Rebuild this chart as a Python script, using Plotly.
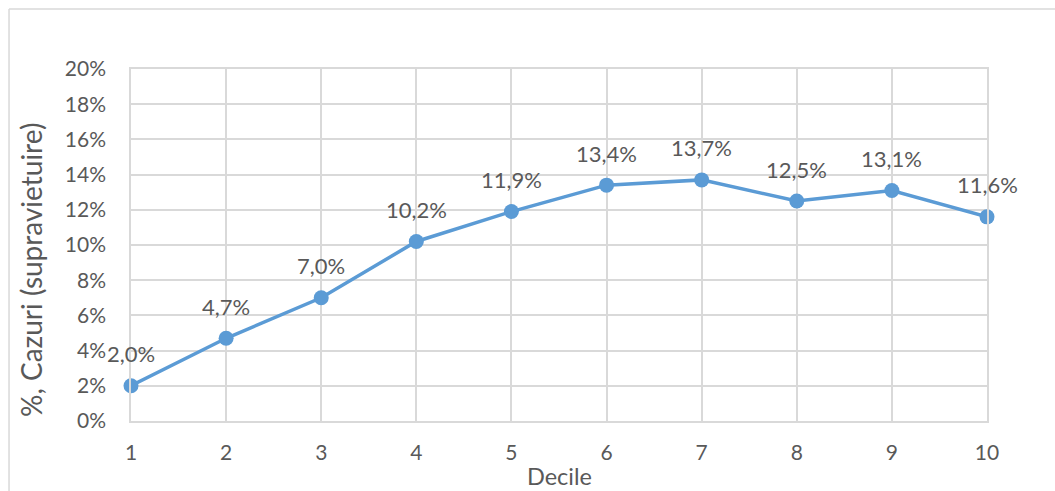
import plotly.graph_objects as go

# Share of cases (survival) by income decile
deciles = [1, 2, 3, 4, 5, 6, 7, 8, 9, 10]
share_pct = [2.0, 4.7, 7.0, 10.2, 11.9, 13.4, 13.7, 12.5, 13.1, 11.6]
y_ticks = [0, 2, 4, 6, 8, 10, 12, 14, 16, 18, 20]

LINE = "#5B9BD5"
GRID = "#D9D9D9"
TEXT = "#595959"
FONT = "Lato"

fig = go.Figure()
fig.add_trace(go.Scatter(
    x=deciles, y=share_pct, mode="lines+markers",
    line=dict(color=LINE, width=3.5),
    marker=dict(color=LINE, size=15),
    cliponaxis=False, hoverinfo="skip", showlegend=False,
))

for d, v in zip(deciles, share_pct):
    fig.add_annotation(
        x=d, y=v, text=f"{v:.1f}%".replace(".", ","),
        showarrow=False, yshift=32,
        font=dict(family=FONT, size=22, color=TEXT),
    )

# axis titles
fig.add_annotation(
    text="%, Cazuri (supravietuire)", xref="paper", yref="paper",
    x=-0.1168, y=0.429, textangle=-90, showarrow=False,
    xanchor="center", yanchor="middle",
    font=dict(family=FONT, size=28, color=TEXT),
)
fig.add_annotation(
    text="Decile", xref="paper", yref="paper",
    x=0.5, y=-0.156, showarrow=False,
    xanchor="center", yanchor="middle",
    font=dict(family=FONT, size=23.5, color=TEXT),
)

# outer chart frame (left and top edges)
fig.add_shape(type="line", xref="paper", yref="paper",
              x0=-0.1425, x1=-0.1425, y0=1.1705, y1=-0.3,
              line=dict(color=GRID, width=1.5))
fig.add_shape(type="line", xref="paper", yref="paper",
              x0=-0.1425, x1=1.2, y0=1.1705, y1=1.1705,
              line=dict(color=GRID, width=1.5))

fig.update_layout(
    width=1055, height=491, autosize=False,
    margin=dict(l=131, r=68, t=69, b=70),
    paper_bgcolor="white", plot_bgcolor="white",
    font=dict(family=FONT, size=21, color=TEXT),
)
fig.update_xaxes(
    range=[1, 10], tickvals=deciles, ticktext=[str(d) for d in deciles],
    showgrid=True, gridcolor=GRID, gridwidth=1.5,
    showline=True, linecolor=GRID, linewidth=1.5, mirror=True,
    zeroline=False, ticks="", ticklabelstandoff=12, automargin=False,
    tickfont=dict(family=FONT, size=21, color=TEXT),
)
fig.update_yaxes(
    range=[0, 20], tickvals=y_ticks, ticktext=[f"{t}%" for t in y_ticks],
    showgrid=True, gridcolor=GRID, gridwidth=1.5,
    showline=True, linecolor=GRID, linewidth=1.5, mirror=True,
    zeroline=False, ticks="", ticklabelstandoff=19, automargin=False,
    tickfont=dict(family=FONT, size=21, color=TEXT),
)

fig.write_html("out.html")
